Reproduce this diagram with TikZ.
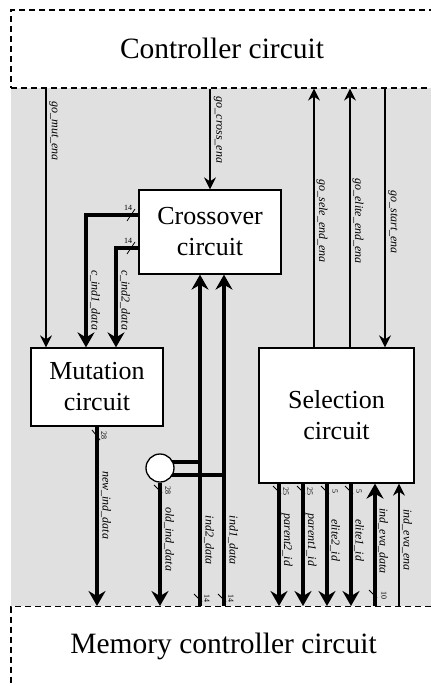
\documentclass[tikz,border=0pt]{standalone}
\usepackage{fontspec}
\setmainfont{Liberation Serif}
\usetikzlibrary{arrows.meta,calc}
\pgfdeclarelayer{back}
\pgfdeclarelayer{wires}
\pgfsetlayers{back,wires,main}
\definecolor{bgray}{RGB}{224,224,224}
\begin{document}
\begin{tikzpicture}[x=1pt,y=-1pt,
  thin/.style={line width=1.2pt},
  bus/.style={line width=4pt},
  ta/.style={-{Stealth[length=12pt,width=12pt,inset=4pt]}},
  ba/.style={-{Stealth[length=15pt,width=17pt,inset=5pt]}},
  box/.style={draw, line width=1.3pt, fill=white, inner sep=0pt, align=center, font=\fontsize{26}{31}\selectfont},
  outer/.style={draw, dash pattern=on 6pt off 4pt, line width=1.2pt, inner sep=0pt},
  big/.style={font=\fontsize{29.5}{35}\selectfont, inner sep=0pt},
  sl/.style={font=\fontsize{12}{14}\selectfont\itshape, rotate=-90, inner sep=0pt},
  bw/.style={font=\fontsize{8}{9}\selectfont, inner sep=0pt},
  bwv/.style={bw, rotate=-90},
  slash/.style={line width=0.8pt}
]
\useasboundingbox (0,0) rectangle (431,686);
\begin{pgfonlayer}{back}
\fill[bgray] (11,88) rectangle (431,606);
\end{pgfonlayer}

% outer blocks
\node[outer, minimum width=423pt, minimum height=78pt] (ctrl) at (222.5,49) {};
\node[big] (ctrltext) at (222,48) {Controller circuit};
\node[outer, minimum width=425pt, minimum height=120pt, anchor=north] (mem) at (223.5,606) {};
\node[big] (memtext) at (223.5,646) {Memory controller circuit};

% inner blocks
\node[box, minimum width=142pt, minimum height=84pt] (cross) at (210,232) {Crossover\\circuit};
\node[box, minimum width=132pt, minimum height=78pt] (mut) at (97,387) {Mutation\\circuit};
\node[box, minimum width=155pt, minimum height=135pt] (sel) at (336.5,415.5) {Selection\\circuit};
\node[draw, circle, line width=1.3pt, fill=white, minimum size=28pt, inner sep=0pt] (mux) at (160,468) {};

% control signals
\draw[thin,ta] (46,0 |- ctrl.south) -- (46,0 |- mut.north);
\node[sl] (lmut) at (54,131) {go\_mut\_ena};
\draw[thin,ta] (cross.north |- ctrl.south) -- (cross.north);
\node[sl] (lcross) at (218,130) {go\_cross\_ena};
\draw[thin,ta] (314,0 |- sel.north) -- (314,0 |- ctrl.south);
\node[sl] (lsele) at (322,221) {go\_sele\_end\_ena};
\draw[thin,ta] (350,0 |- sel.north) -- (350,0 |- ctrl.south);
\node[sl] (lelite) at (358,221) {go\_elite\_end\_ena};
\draw[thin,ta] (385,0 |- ctrl.south) -- (385,0 |- sel.north);
\node[sl] (lstart) at (393,222) {go\_start\_ena};

% crossover outputs
\draw[bus,ba] (cross.west |- 0,215) -| (86,0 |- mut.north);
\draw[bus,ba] (cross.west |- 0,248) -| (116,0 |- mut.north);
\draw[slash] (127,221) -- (135,209);
\node[bw] (w1) at (128,208) {14};
\draw[slash] (127,254) -- (135,242);
\node[bw] (w2) at (128,241) {14};
\node[sl] (lc1) at (95,300) {c\_ind1\_data};
\node[sl] (lc2) at (125,300) {c\_ind2\_data};

% mutation output
\draw[bus,ba] (mut.south) -- (mut.south |- mem.north);
\draw[slash] (92,430) -- (100,440);
\node[bwv] (w3) at (104,435) {28};
\node[sl] (lnew) at (106,505) {new\_ind\_data};

% multiplexer
\begin{pgfonlayer}{wires}
\draw[bus] (mux.center |- 0,462) -- (200,462);
\draw[bus] (mux.center |- 0,475) -- (224,475);
\end{pgfonlayer}
\draw[bus,ba] (mux.south) -- (mux.south |- mem.north);
\draw[slash] (154,485) -- (162,493);
\node[bwv] (w4) at (168,490) {28};
\node[sl] (lold) at (169,539) {old\_ind\_data};

% crossover inputs
\draw[bus,ba] (200,0 |- mem.north) -- (200,0 |- cross.south);
\draw[bus,ba] (224,0 |- mem.north) -- (224,0 |- cross.south);
\draw[slash] (194,594) -- (202,602);
\node[bwv] (w5) at (207,598) {14};
\draw[slash] (218,594) -- (226,602);
\node[bwv] (w6) at (231,598) {14};
\node[sl] (li2) at (209,540) {ind2\_data};
\node[sl] (li1) at (233,540) {ind1\_data};

% selection outputs
\draw[bus,ba] (279,0 |- sel.south) -- (279,0 |- mem.north);
\draw[bus,ba] (303,0 |- sel.south) -- (303,0 |- mem.north);
\draw[bus,ba] (327,0 |- sel.south) -- (327,0 |- mem.north);
\draw[bus,ba] (351,0 |- sel.south) -- (351,0 |- mem.north);
\draw[slash] (273,486) -- (281,494);
\node[bwv] (w7) at (286,491) {25};
\draw[slash] (297,486) -- (305,494);
\node[bwv] (w8) at (310,491) {25};
\draw[slash] (321,486) -- (329,494);
\node[bwv] (w9) at (335,491) {5};
\draw[slash] (345,486) -- (353,494);
\node[bwv] (w10) at (359,491) {5};
\node[sl] (lp2) at (287,540) {parent2\_id};
\node[sl] (lp1) at (311,540) {parent1\_id};
\node[sl] (le2) at (335,540) {elite2\_id};
\node[sl] (le1) at (359,540) {elite1\_id};

% selection inputs
\draw[bus,ba] (375,0 |- mem.north) -- (375,0 |- sel.south);
\draw[slash] (369,590) -- (377,598);
\node[bwv] (w11) at (384,595) {10};
\node[sl] (led) at (383,541) {ind\_eva\_data};
\draw[thin,ta] (399,0 |- mem.north) -- (399,0 |- sel.south);
\node[sl] (lee) at (407,540) {ind\_eva\_ena};
\end{tikzpicture}
\end{document}
